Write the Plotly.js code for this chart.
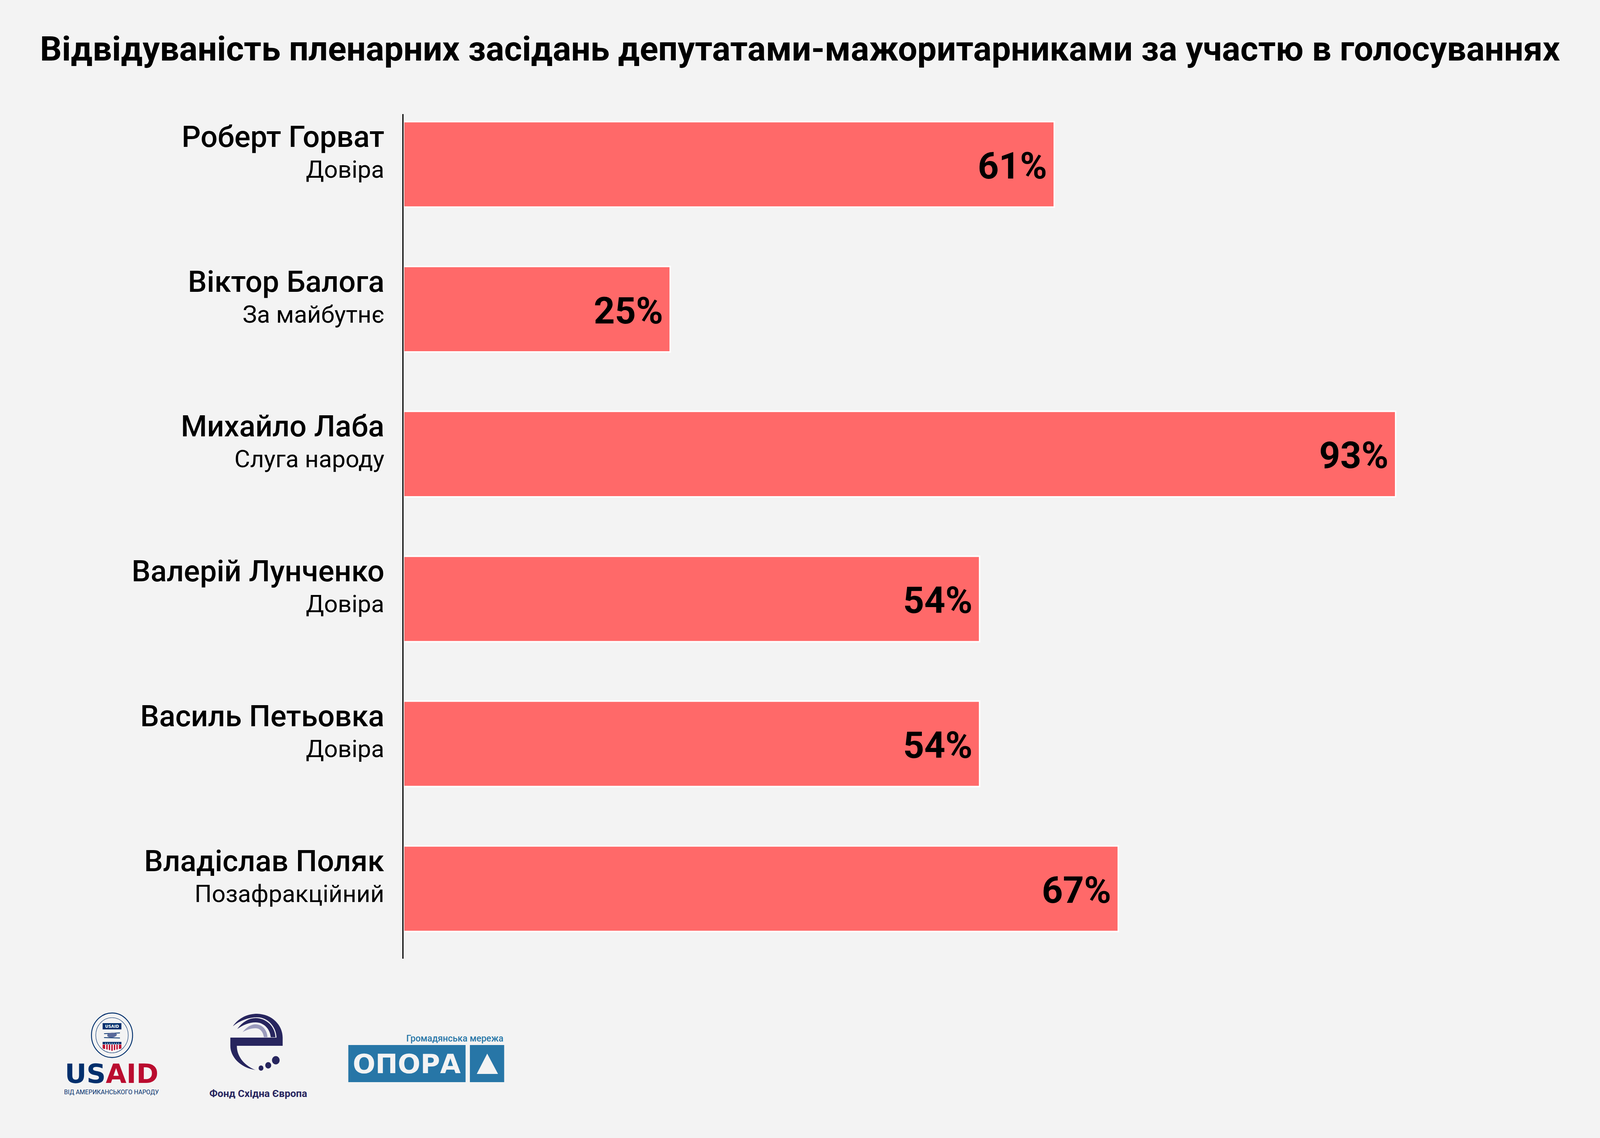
<!DOCTYPE html>
<html>
<head>
<meta charset="utf-8">
<script src="https://cdn.plot.ly/plotly-3.0.1.min.js"></script>
<style>
  html, body { margin: 0; padding: 0; background: #f3f3f3; overflow: hidden; }
</style>
</head>
<body>
<div id="chart"></div>
<script>
const deputies = ['Роберт Горват', 'Віктор Балога', 'Михайло Лаба', 'Валерій Лунченко', 'Василь Петьовка', 'Владіслав Поляк'];
const factions = ['Довіра', 'За майбутнє', 'Слуга народу', 'Довіра', 'Довіра', 'Позафракційний'];
const attendance = [61, 25, 93, 54, 54, 67];

const title = 'Відвідуваність пленарних засідань депутатами-мажоритарниками за участю в голосуваннях';

const barColor = '#ff6969';
const navy = '#002f6c';
const usRed = '#ba0c2f';
const eefNavy = '#27255e';
const oporaBlue = '#2776a7';

// design size; stretched to whatever the viewport really is
const W_FIG = 4434, H_FIG = 2913;
const SX = window.innerWidth / W_FIG;
const SY = window.innerHeight / H_FIG;
const z = (v) => v * SX;
const zy = (v) => v * SY;

const M = { l: 1118, r: 359, t: 292, b: 459 };
const PW = W_FIG - M.l - M.r;
const PH = H_FIG - M.t - M.b;

// design pixel -> paper coords, used only for the logo decorations
const fx = (px) => (px - M.l) / PW;
const fy = (py) => (H_FIG - M.b - py) / PH;
const pth = (d) => d.replace(/(-?[\d.]+),(-?[\d.]+)/g,
  (m, a, b) => fx(+a).toFixed(5) + ',' + fy(+b).toFixed(5));

function rect(x0, y0, x1, y1, color) {
  return { type: 'rect', xref: 'paper', yref: 'paper', x0: fx(x0), x1: fx(x1), y0: fy(y1), y1: fy(y0),
    fillcolor: color, line: { width: 0 } };
}
function circle(cx, cy, r, fill, stroke, sw) {
  return { type: 'circle', xref: 'paper', yref: 'paper', x0: fx(cx - r), x1: fx(cx + r), y0: fy(cy + r), y1: fy(cy - r),
    fillcolor: fill, line: { color: stroke || fill, width: z(sw || 0) } };
}
function path(d, fill) {
  return { type: 'path', xref: 'paper', yref: 'paper', path: pth(d), fillcolor: fill, line: { width: 0 } };
}
function font(family, size, color, weight) {
  return { family: family, size: z(size), color: color, weight: weight || 400 };
}
function label(px, py, text, f, xanchor) {
  return { xref: 'paper', yref: 'paper', x: fx(px), y: fy(py), text: text, showarrow: false,
    xanchor: xanchor || 'center', yanchor: 'middle', font: f };
}

const trace = {
  type: 'bar',
  orientation: 'h',
  x: attendance,
  y: deputies,
  width: 0.59,
  marker: { color: barColor, line: { color: '#ffffff', width: z(4) } },
  hoverinfo: 'none',
};

const annotations = [];
deputies.forEach((name, i) => {
  annotations.push({
    xref: 'paper', yref: 'y', x: 0, y: name, xanchor: 'right', yanchor: 'middle',
    xshift: z(-51), yshift: zy(71), showarrow: false, text: name,
    font: font('Roboto', 83, '#000', 500),
  });
  annotations.push({
    xref: 'paper', yref: 'y', x: 0, y: name, xanchor: 'right', yanchor: 'middle',
    xshift: z(-51), yshift: zy(-13), showarrow: false, text: factions[i],
    font: font('Roboto', 67, '#000'),
  });
  annotations.push({
    xref: 'x', yref: 'y', x: attendance[i], y: name, xanchor: 'right', yanchor: 'middle',
    xshift: z(-17), yshift: zy(-4), showarrow: false, text: attendance[i] + '%',
    font: font('Roboto', 102, '#000', 700),
  });
});

// logos
const shapes = [
  // USAID seal
  circle(310, 2650, 57, 'rgba(0,0,0,0)', navy, 2.5),
  circle(310, 2650, 45, 'rgba(0,0,0,0)', navy, 1.2),
  rect(284, 2619, 336, 2635, navy),
  path('M 288,2645 L 332,2643 L 332,2645 L 288,2647 Z', navy),
  path('M 297,2648 C 303,2642 318,2642 324,2648 C 320,2657 302,2658 297,2652 Z', '#5a6a9a'),
  path('M 288,2655 L 332,2656 L 332,2658 L 288,2657 Z', navy),
  rect(284, 2667, 336, 2673, navy),
  path('M 284,2674 L 336,2674 L 336,2684 C 326,2686 318,2687 310,2690 C 302,2687 294,2686 284,2684 Z', usRed),
  // EEF "e"
  rect(638, 2656, 783, 2677, eefNavy),
  path('M 638,2677 C 638,2705 665,2733 708,2739 C 682,2730 656,2708 656,2677 Z', eefNavy),
  path('M 645,2627 C 662,2604 688,2595 712,2595 C 755,2596 783,2625 783,2656 L 766,2656 C 765,2628 742,2604 712,2604 C 690,2604 664,2612 645,2627 Z', eefNavy),
  path('M 657,2634 C 671,2616 690,2606 708,2606 C 738,2606 762,2628 763,2655 L 750,2655 C 748,2633 730,2617 708,2617 C 690,2617 672,2624 657,2634 Z', eefNavy),
  path('M 672,2642 C 682,2630 695,2622 708,2622 C 726,2622 740,2636 741,2655 L 731,2655 C 729,2641 720,2632 708,2632 C 695,2632 683,2636 672,2642 Z', '#9b9bbd'),
  circle(723, 2734, 6.7, eefNavy),
  circle(743, 2727, 8.3, eefNavy),
  circle(764, 2714, 10.7, eefNavy),
  // OPORA
  rect(965, 2675, 1290, 2770, oporaBlue),
  rect(1302, 2675, 1397, 2770, oporaBlue),
  path('M 1350,2697 L 1380,2749 L 1321,2749 Z', '#f3f3f3'),
];
// white stripes on the shield
[291, 298, 305, 312, 319, 326].forEach((sx) => {
  shapes.push(rect(sx, 2674, sx + 3, 2690, '#ffffff'));
});

annotations.push(
  label(310, 2627, 'USAID', font('DejaVu Sans', 11, '#ffffff', 700)),
  label(310, 2670, '★ ★ ★ ★ ★ ★ ★', font('DejaVu Sans', 5, '#ffffff')),
  label(309, 2748, '<span style="color:' + navy + '">US</span><span style="color:' + usRed + '">AID</span>',
    font('DejaVu Sans', 74, navy, 700)),
  label(309, 2795, 'ВІД АМЕРИКАНСЬКОГО НАРОДУ', font('Roboto', 17, navy)),
  label(715, 2799, 'Фонд Східна Європа', font('Roboto', 28, eefNavy, 700)),
  label(1397, 2658, 'Громадянська мережа', font('Roboto', 25, oporaBlue, 500), 'right'),
  label(1127, 2723, 'ОПОРА', font('DejaVu Sans', 74, '#f3f3f3', 700)),
);

const layout = {
  width: window.innerWidth,
  height: window.innerHeight,
  margin: { l: z(M.l), r: z(M.r), t: zy(M.t), b: zy(M.b), pad: 0 },
  paper_bgcolor: '#f3f3f3',
  plot_bgcolor: '#f3f3f3',
  showlegend: false,
  title: {
    text: '<b>' + title + '</b>',
    font: font('Roboto', 95, '#000'),
    x: 0.5, xanchor: 'center',
    y: 1 - 124 / H_FIG, yref: 'container', yanchor: 'middle',
  },
  xaxis: { range: [0, 100], visible: false, fixedrange: true },
  yaxis: {
    type: 'category',
    autorange: false,
    range: [5.483, -0.347],
    showline: true, linecolor: '#000', linewidth: z(3),
    showticklabels: false, ticks: '', showgrid: false, zeroline: false,
  },
  annotations: annotations,
  shapes: shapes,
};

Plotly.newPlot('chart', [trace], layout, { staticPlot: true, displayModeBar: false });
</script>
</body>
</html>
